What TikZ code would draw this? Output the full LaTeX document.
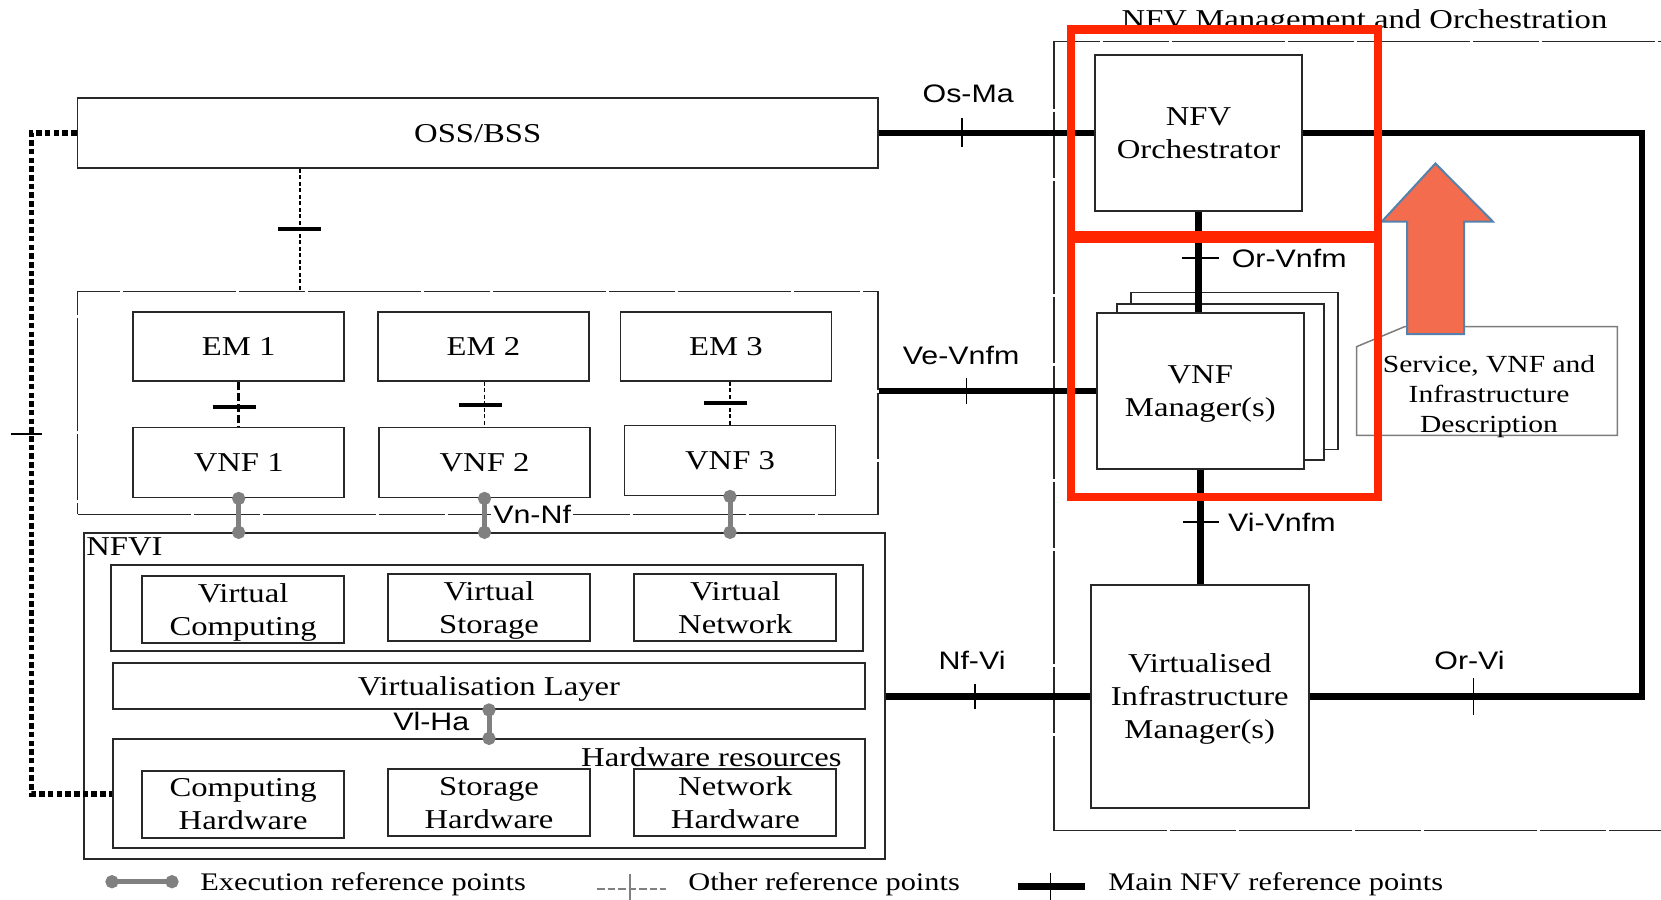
\documentclass[tikz,border=0pt]{standalone}
\usepackage{fontspec}
\setmainfont{Liberation Serif}[FakeStretch=1.2]
\setsansfont{Liberation Sans}[FakeStretch=1.2]
\usetikzlibrary{calc,arrows.meta}

\definecolor{hlred}{RGB}{255,38,0}
\definecolor{arrfill}{RGB}{244,108,78}
\definecolor{arredge}{RGB}{84,130,172}
\definecolor{execgray}{RGB}{128,128,128}
\definecolor{boxline}{RGB}{40,40,40}
\definecolor{descgray}{RGB}{125,125,125}

\newcommand{\boxfont}{\fontsize{15.5}{18.7}\selectfont}
\newcommand{\descfont}{\fontsize{14}{17}\selectfont}
\newcommand{\reffont}{\sffamily\fontsize{14.4}{17}\selectfont}
\newcommand{\legfont}{\fontsize{14.4}{17}\selectfont}

\begin{document}
\begin{tikzpicture}[x=0.2mm, y=-0.2mm,
    sz/.style 2 args={minimum width=#1*0.2mm, minimum height=#2*0.2mm},
    plain/.style={draw=boxline, line width=0.38mm, inner sep=0pt},
    blk/.style={plain, align=center, font=\boxfont, text depth=0pt},
    grp/.style={draw=boxline, line width=0.3mm, inner sep=0pt,
        dash pattern=on 22.6mm off 0.6mm on 13.2mm off 0.6mm},
    lbl/.style={inner sep=0pt, font=\reffont},
    mainref/.style={line width=1.3mm},
    mtick/.style={line width=0.35mm},
    otick/.style={line width=0.8mm},
    odot/.style={line width=0.35mm, dash pattern=on 0.8mm off 0.5mm},
    odash/.style={line width=0.6mm, dash pattern=on 1.6mm off 0.6mm},
    ossdot/.style={line width=1.1mm, dash pattern=on 1.1mm off 0.64mm},
    lgother/.style={draw=execgray, line width=0.3mm, dash pattern=on 1.5mm off 0.6mm},
    exec/.style={draw=execgray, line width=1mm,
        {Circle[length=2.6mm]}-{Circle[length=2.6mm]},
        shorten <=-1.3mm, shorten >=-1.3mm},
    hl/.style={draw=hlred, line width=1.75mm}
]
\fill[white] (0,0) rectangle (1661,899);
\useasboundingbox (0,0) rectangle (1661,899);

% OSS/BSS and the VNF domain
\node[blk, sz={800.5}{70}] (oss) at (477.75,133) {OSS/BSS};
\node[grp, sz={800.5}{222.6}] (vnfdom) at (477.75,403) {};
\foreach \i/\ex/\vx/\vy in {1/238.7/238.7/462.5, 2/483.5/484.5/462.5, 3/726/730/460.5} {
  \node[blk, sz={211}{69}] (em\i) at (\ex,346.2) {EM \i};
  \node[blk, sz={211}{70}] (vnf\i) at (\vx,\vy) {VNF \i};
}

% NFVI
\node[plain, sz={800.6}{326}] (nfvi) at (484.7,696.3) {};
\node[anchor=west, inner sep=0pt, font=\boxfont] (nfvit) at (86,546.7) {NFVI};
\node[plain, sz={752}{86}] (virt) at (486.8,608) {};
\node[blk, sz={202.6}{66.7}] (vcomp) at (243.1,609.35) {Virtual\\Computing};
\node[blk, sz={202}{66.7}] (vstor) at (489,607.35) {Virtual\\Storage};
\node[blk, sz={202}{66.7}] (vnet) at (735.35,607.35) {Virtual\\Network};
\node[blk, sz={752}{46.3}] (vlayer) at (489,685.85) {Virtualisation Layer};
\node[plain, sz={752}{109}] (hwres) at (489,793.8) {};
\node[anchor=east, inner sep=0pt, font=\boxfont] (hwt) at (842,757.3) {Hardware resources};
\node[blk, sz={202.6}{66.7}] (chw) at (243.1,804.35) {Computing\\Hardware};
\node[blk, sz={202}{66.7}] (shw) at (489,802.65) {Storage\\Hardware};
\node[blk, sz={202}{66.7}] (nhw) at (735.35,802.65) {Network\\Hardware};

% management and orchestration
\node[grp, sz={646}{789}] (mano) at (1377,436.2) {};
\node[anchor=base, inner sep=0pt, font=\boxfont] (manot) at (1364.5,28.3) {NFV Management and Orchestration};
\node[blk, sz={207}{156}] (nfvo) at (1198.5,133) {NFV\\Orchestrator};
\node[blk, fill=white, sz={207}{157}] (vnfm3) at (1234.3,371) {};
\node[blk, fill=white, sz={207}{156}] (vnfm2) at (1220.3,382) {};
\node[blk, fill=white, sz={207.4}{156}] (vnfm) at (1200.3,391) {VNF\\Manager(s)};
\node[blk, sz={218}{222.7}] (vim) at (1199.75,696.35) {Virtualised\\Infrastructure\\Manager(s)};

% descriptor store
\node[inner sep=0pt, sz={260}{108}] (descbox) at (1487,381) {};
\draw[descgray, line width=0.3mm] ($(descbox.north west)+(0,20)$) -- ($(descbox.north west)+(48,0)$)
    -- (descbox.north east) -- (descbox.south east) -- (descbox.south west) -- cycle;
\node[inner sep=0pt, align=center, font=\descfont, text depth=0pt] (desct) at (1489,394) {Service, VNF and\\Infrastructure\\Description};

% main reference points
\coordinate (rgt) at (1642,0);
\draw[mainref] (oss.east) -- coordinate[pos=0.387] (osma) (nfvo.west);
\draw[mtick] ($(osma)+(0,-15)$) -- ($(osma)+(0,14)$);
\node[lbl] (l-osma) at ($(osma)+(6,-39)$) {Os-Ma};

\draw[mainref] (vnfm.west -| vnfdom.east) -- coordinate[pos=0.405] (vevnfm) (vnfm.west);
\draw[mtick] ($(vevnfm)+(0,-13)$) -- ($(vevnfm)+(0,13)$);
\node[lbl] (l-vevnfm) at ($(vevnfm)+(-5.5,-36)$) {Ve-Vnfm};

\draw[mainref] (vim.west -| nfvi.east) -- coordinate[pos=0.437] (nfvi-r) (vim.west);
\draw[mtick] ($(nfvi-r)+(0,-12.5)$) -- ($(nfvi-r)+(0,12.5)$);
\node[lbl] (l-nfvi) at ($(nfvi-r)+(-3,-36)$) {Nf-Vi};

\draw[mainref] (vim.east) -- coordinate[pos=0.493] (orvi) (vim.east -| rgt) |- (nfvo.east);
\draw[mtick] ($(orvi)+(0,-18)$) -- ($(orvi)+(0,19)$);
\node[lbl] (l-orvi) at ($(orvi)+(-4,-36)$) {Or-Vi};

\draw[mainref] (nfvo.south) -- coordinate[pos=0.46] (orvnfm) (nfvo.south |- vnfm.north);
\draw[mtick] ($(orvnfm)+(-17,0)$) -- ($(orvnfm)+(20.5,0)$);
\node[lbl, anchor=west] (l-orvnfm) at ($(orvnfm)+(33,0)$) {Or-Vnfm};

\draw[mainref] (vnfm.south) -- coordinate[pos=0.457] (vivnfm) (vnfm.south |- vim.north);
\draw[mtick] ($(vivnfm)+(-17,0)$) -- ($(vivnfm)+(19,0)$);
\node[lbl, anchor=west] (l-vivnfm) at ($(vivnfm)+(27.5,0)$) {Vi-Vnfm};

% other reference points
\coordinate (ossx) at (300,0);
\draw[odot] (oss.south -| ossx) -- coordinate[pos=0.493] (ossem) (vnfdom.north -| ossx);
\draw[otick] ($(ossem)+(-22,0)$) -- ($(ossem)+(21,0)$);

\coordinate (lft) at (31.6,0);
\draw[ossdot] (oss.west) -- (oss.west -| lft) -- coordinate[pos=0.4555] (osshw) (lft |- hwres.west) -- (hwres.west);
\draw[line width=0.3mm] ($(osshw)+(-21,0)$) -- ($(osshw)+(10,0)$);

\foreach \i/\st/\p in {1/odash/0.56, 2/odot/0.53, 3/odot/0.5} {
  \draw[\st] (vnf\i.north |- em\i.south) -- coordinate[pos=\p] (t\i) (vnf\i.north);
  \draw[otick] ($(t\i)+(-26,0)$) -- ($(t\i)+(17,0)$);
}

% execution reference points
\foreach \i in {1,2,3}
  \draw[exec] (vnf\i.south) -- (vnf\i.south |- nfvi.north);
\node[lbl, anchor=west, fill=white, inner xsep=0.4mm] (l-vnnf) at (491,514) {Vn-Nf};
\draw[exec] (vlayer.south) -- (hwres.north);
\node[lbl, anchor=east] (l-vlha) at (469.6,721.7) {Vl-Ha};

% legend
\coordinate (lgx1) at (112,881.7);
\coordinate (lgx2) at (172,881.7);
\draw[exec] (lgx1) -- (lgx2);
\node[anchor=base west, inner sep=0pt, font=\legfont] (lgxt) at (200,890.5) {Execution reference points};
\coordinate (lgo1) at (597,889);
\coordinate (lgo2) at (666,889);
\draw[lgother] (lgo1) -- coordinate[pos=0.478] (lgot) (lgo2);
\draw[execgray, line width=0.3mm] ($(lgot)+(0,-15)$) -- ($(lgot)+(0,15)$);
\node[anchor=base west, inner sep=0pt, font=\legfont] (lgot-t) at (688,890.5) {Other reference points};
\coordinate (lgm1) at (1017.5,886.7);
\coordinate (lgm2) at (1084.5,886.7);
\draw[mainref] (lgm1) -- coordinate[pos=0.493] (lgmt) (lgm2);
\draw[mtick] ($(lgmt)+(0,-14)$) -- ($(lgmt)+(0,15)$);
\node[anchor=base west, inner sep=0pt, font=\legfont] (lgm-t) at (1108,890.5) {Main NFV reference points};

% highlight and flow arrow
\fill[arrfill, draw=arredge, line width=0.4mm] (1407,334) -- (1407,221.7) -- (1381.7,221.7)
    -- (1435.4,163.5) -- (1493,221.7) -- (1464,221.7) -- (1464,334) -- cycle;
\draw[hl] (1071,29.5) rectangle (1378,235);
\draw[hl] (1071,239) rectangle (1378,497);
\end{tikzpicture}
\end{document}
